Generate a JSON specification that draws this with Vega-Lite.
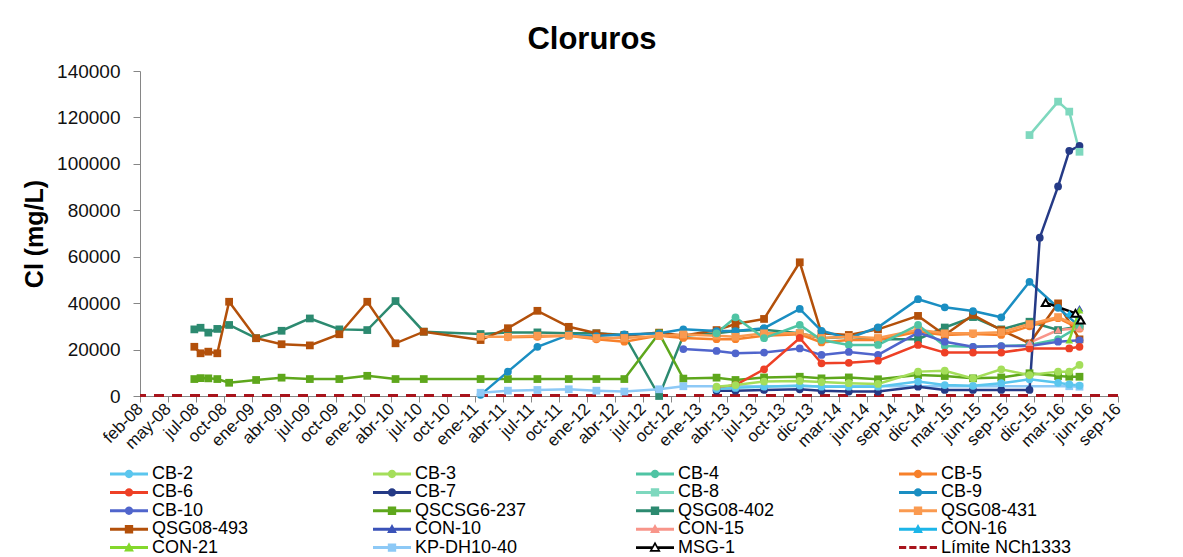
{
  "$schema": "https://vega.github.io/schema/vega-lite/v6.json",
  "width": 978,
  "height": 325,
  "autosize": {"type": "none"},
  "padding": {"left": 140, "top": 71, "right": 65, "bottom": 161},
  "background": "white",
  "title": {"text": "Cloruros", "font": "Liberation Sans", "fontSize": 31, "fontWeight": "bold", "color": "#000", "anchor": "middle", "dx": -37, "offset": 6},
  "config": {
    "view": {"stroke": null},
    "axis": {"labelFont": "Liberation Sans", "titleFont": "Liberation Sans", "domainColor": "#868686", "tickColor": "#868686", "grid": false, "labelColor": "#111"},
    "axisX": {"labelOverlap": false, "labelAngle": -45, "labelAlign": "right", "labelBaseline": "middle", "labelFontSize": 17, "labelPadding": 4, "tickSize": 6, "labelFlush": false, "labelBound": false},
    "axisY": {"labelFontSize": 19, "titleFontSize": 25, "titleFontWeight": "bold", "titleColor": "#000", "tickSize": 7, "titlePadding": 9, "labelPadding": 13, "labelOverlap": false}
  },
  "datasets": {
    "obs": [
      {"series": "QSG08-402", "date": "2008-07-25", "value": 28700},
      {"series": "QSG08-402", "date": "2008-08-14", "value": 29400},
      {"series": "QSG08-402", "date": "2008-09-08", "value": 27300},
      {"series": "QSG08-402", "date": "2008-10-07", "value": 28900},
      {"series": "QSG08-402", "date": "2008-11-14", "value": 30600},
      {"series": "QSG08-402", "date": "2009-02-09", "value": 24900},
      {"series": "QSG08-402", "date": "2009-05-02", "value": 28100},
      {"series": "QSG08-402", "date": "2009-08-01", "value": 33400},
      {"series": "QSG08-402", "date": "2009-11-04", "value": 28700},
      {"series": "QSG08-402", "date": "2010-02-02", "value": 28400},
      {"series": "QSG08-402", "date": "2010-05-04", "value": 40900},
      {"series": "QSG08-402", "date": "2010-08-03", "value": 27700},
      {"series": "QSG08-402", "date": "2011-02-02", "value": 26700},
      {"series": "QSG08-402", "date": "2011-05-01", "value": 27400},
      {"series": "QSG08-402", "date": "2011-08-04", "value": 27400},
      {"series": "QSG08-402", "date": "2011-11-13", "value": 27000},
      {"series": "QSG08-402", "date": "2012-02-10", "value": 27000},
      {"series": "QSG08-402", "date": "2012-05-10", "value": 26300},
      {"series": "QSG08-402", "date": "2012-08-30", "value": 0},
      {"series": "QSG08-402", "date": "2012-11-16", "value": 26000},
      {"series": "QSG08-402", "date": "2013-03-03", "value": 27000},
      {"series": "QSG08-402", "date": "2013-05-03", "value": 28000},
      {"series": "QSG08-402", "date": "2013-08-03", "value": 28500},
      {"series": "QSG08-402", "date": "2013-11-26", "value": 27000},
      {"series": "QSG08-402", "date": "2014-02-04", "value": 24900},
      {"series": "QSG08-402", "date": "2014-05-03", "value": 25500},
      {"series": "QSG08-402", "date": "2014-08-05", "value": 24500},
      {"series": "QSG08-402", "date": "2014-12-12", "value": 24500},
      {"series": "QSG08-402", "date": "2015-03-08", "value": 29500},
      {"series": "QSG08-402", "date": "2015-06-07", "value": 34000},
      {"series": "QSG08-402", "date": "2015-09-06", "value": 28700},
      {"series": "QSG08-402", "date": "2015-12-06", "value": 32000},
      {"series": "QSG08-402", "date": "2016-03-07", "value": 28400},
      {"series": "QSG08-402", "date": "2016-05-15", "value": 30000},

      {"series": "QSG08-493", "date": "2008-07-25", "value": 21200},
      {"series": "QSG08-493", "date": "2008-08-14", "value": 18400},
      {"series": "QSG08-493", "date": "2008-09-08", "value": 19100},
      {"series": "QSG08-493", "date": "2008-10-07", "value": 18400},
      {"series": "QSG08-493", "date": "2008-11-14", "value": 40600},
      {"series": "QSG08-493", "date": "2009-02-09", "value": 24900},
      {"series": "QSG08-493", "date": "2009-05-02", "value": 22300},
      {"series": "QSG08-493", "date": "2009-08-01", "value": 21800},
      {"series": "QSG08-493", "date": "2009-11-04", "value": 26600},
      {"series": "QSG08-493", "date": "2010-02-02", "value": 40600},
      {"series": "QSG08-493", "date": "2010-05-04", "value": 22700},
      {"series": "QSG08-493", "date": "2010-08-03", "value": 27700},
      {"series": "QSG08-493", "date": "2011-02-02", "value": 24100},
      {"series": "QSG08-493", "date": "2011-05-01", "value": 29200},
      {"series": "QSG08-493", "date": "2011-08-04", "value": 36700},
      {"series": "QSG08-493", "date": "2011-11-13", "value": 29800},
      {"series": "QSG08-493", "date": "2012-02-10", "value": 27000},
      {"series": "QSG08-493", "date": "2012-05-10", "value": 26000},
      {"series": "QSG08-493", "date": "2012-08-30", "value": 27300},
      {"series": "QSG08-493", "date": "2012-11-16", "value": 26000},
      {"series": "QSG08-493", "date": "2013-03-03", "value": 28400},
      {"series": "QSG08-493", "date": "2013-05-03", "value": 31000},
      {"series": "QSG08-493", "date": "2013-08-03", "value": 33200},
      {"series": "QSG08-493", "date": "2013-11-26", "value": 57600},
      {"series": "QSG08-493", "date": "2014-02-04", "value": 27000},
      {"series": "QSG08-493", "date": "2014-05-03", "value": 26300},
      {"series": "QSG08-493", "date": "2014-08-05", "value": 28700},
      {"series": "QSG08-493", "date": "2014-12-12", "value": 34500},
      {"series": "QSG08-493", "date": "2015-03-08", "value": 26300},
      {"series": "QSG08-493", "date": "2015-06-07", "value": 34900},
      {"series": "QSG08-493", "date": "2015-09-06", "value": 28400},
      {"series": "QSG08-493", "date": "2015-12-06", "value": 22700},
      {"series": "QSG08-493", "date": "2016-03-07", "value": 39900},
      {"series": "QSG08-493", "date": "2016-05-15", "value": 24400},

      {"series": "QSCSG6-237", "date": "2008-07-25", "value": 7300},
      {"series": "QSCSG6-237", "date": "2008-08-14", "value": 7700},
      {"series": "QSCSG6-237", "date": "2008-09-08", "value": 7600},
      {"series": "QSCSG6-237", "date": "2008-10-07", "value": 7300},
      {"series": "QSCSG6-237", "date": "2008-11-14", "value": 5700},
      {"series": "QSCSG6-237", "date": "2009-02-09", "value": 6900},
      {"series": "QSCSG6-237", "date": "2009-05-02", "value": 7900},
      {"series": "QSCSG6-237", "date": "2009-08-01", "value": 7300},
      {"series": "QSCSG6-237", "date": "2009-11-04", "value": 7300},
      {"series": "QSCSG6-237", "date": "2010-02-02", "value": 8700},
      {"series": "QSCSG6-237", "date": "2010-05-04", "value": 7300},
      {"series": "QSCSG6-237", "date": "2010-08-03", "value": 7300},
      {"series": "QSCSG6-237", "date": "2011-02-02", "value": 7300},
      {"series": "QSCSG6-237", "date": "2011-05-01", "value": 7300},
      {"series": "QSCSG6-237", "date": "2011-08-04", "value": 7300},
      {"series": "QSCSG6-237", "date": "2011-11-13", "value": 7300},
      {"series": "QSCSG6-237", "date": "2012-02-10", "value": 7300},
      {"series": "QSCSG6-237", "date": "2012-05-10", "value": 7300},
      {"series": "QSCSG6-237", "date": "2012-08-30", "value": 27000},
      {"series": "QSCSG6-237", "date": "2012-11-16", "value": 7500},
      {"series": "QSCSG6-237", "date": "2013-03-03", "value": 7900},
      {"series": "QSCSG6-237", "date": "2013-05-03", "value": 6900},
      {"series": "QSCSG6-237", "date": "2013-08-03", "value": 8000},
      {"series": "QSCSG6-237", "date": "2013-11-26", "value": 8300},
      {"series": "QSCSG6-237", "date": "2014-02-04", "value": 7600},
      {"series": "QSCSG6-237", "date": "2014-05-03", "value": 8000},
      {"series": "QSCSG6-237", "date": "2014-08-05", "value": 7200},
      {"series": "QSCSG6-237", "date": "2014-12-12", "value": 9000},
      {"series": "QSCSG6-237", "date": "2015-03-08", "value": 8600},
      {"series": "QSCSG6-237", "date": "2015-06-07", "value": 7600},
      {"series": "QSCSG6-237", "date": "2015-09-06", "value": 8000},
      {"series": "QSCSG6-237", "date": "2015-12-06", "value": 9800},
      {"series": "QSCSG6-237", "date": "2016-03-07", "value": 8600},
      {"series": "QSCSG6-237", "date": "2016-04-12", "value": 8300},
      {"series": "QSCSG6-237", "date": "2016-05-15", "value": 8300},

      {"series": "CB-9", "date": "2011-02-02", "value": 500},
      {"series": "CB-9", "date": "2011-05-01", "value": 10500},
      {"series": "CB-9", "date": "2011-08-04", "value": 21200},
      {"series": "CB-9", "date": "2011-11-13", "value": 26300},
      {"series": "CB-9", "date": "2012-02-10", "value": 25800},
      {"series": "CB-9", "date": "2012-05-10", "value": 26500},
      {"series": "CB-9", "date": "2012-08-30", "value": 27000},
      {"series": "CB-9", "date": "2012-11-16", "value": 28700},
      {"series": "CB-9", "date": "2013-03-03", "value": 28000},
      {"series": "CB-9", "date": "2013-05-03", "value": 28000},
      {"series": "CB-9", "date": "2013-08-03", "value": 29200},
      {"series": "CB-9", "date": "2013-11-26", "value": 37500},
      {"series": "CB-9", "date": "2014-02-04", "value": 28100},
      {"series": "CB-9", "date": "2014-05-03", "value": 24900},
      {"series": "CB-9", "date": "2014-08-05", "value": 29600},
      {"series": "CB-9", "date": "2014-12-12", "value": 41700},
      {"series": "CB-9", "date": "2015-03-08", "value": 38200},
      {"series": "CB-9", "date": "2015-06-07", "value": 36600},
      {"series": "CB-9", "date": "2015-09-06", "value": 33900},
      {"series": "CB-9", "date": "2015-12-06", "value": 49200},
      {"series": "CB-9", "date": "2016-03-07", "value": 38000},
      {"series": "CB-9", "date": "2016-05-15", "value": 30000},

      {"series": "KP-DH10-40", "date": "2011-02-02", "value": 1400},
      {"series": "KP-DH10-40", "date": "2011-05-01", "value": 2300},
      {"series": "KP-DH10-40", "date": "2011-08-04", "value": 2600},
      {"series": "KP-DH10-40", "date": "2011-11-13", "value": 2900},
      {"series": "KP-DH10-40", "date": "2012-02-10", "value": 2300},
      {"series": "KP-DH10-40", "date": "2012-05-10", "value": 1900},
      {"series": "KP-DH10-40", "date": "2012-08-30", "value": 2900},
      {"series": "KP-DH10-40", "date": "2012-11-16", "value": 4200},
      {"series": "KP-DH10-40", "date": "2016-04-12", "value": 4200},
      {"series": "KP-DH10-40", "date": "2016-05-15", "value": 4000},

      {"series": "CB-5", "date": "2011-05-01", "value": 25300},
      {"series": "CB-5", "date": "2011-08-04", "value": 25500},
      {"series": "CB-5", "date": "2011-11-13", "value": 26000},
      {"series": "CB-5", "date": "2012-02-10", "value": 24400},
      {"series": "CB-5", "date": "2012-05-10", "value": 23400},
      {"series": "CB-5", "date": "2012-08-30", "value": 26000},
      {"series": "CB-5", "date": "2012-11-16", "value": 25000},
      {"series": "CB-5", "date": "2013-03-03", "value": 24500},
      {"series": "CB-5", "date": "2013-05-03", "value": 24500},
      {"series": "CB-5", "date": "2013-08-03", "value": 26000},
      {"series": "CB-5", "date": "2013-11-26", "value": 26600},
      {"series": "CB-5", "date": "2014-02-04", "value": 23100},
      {"series": "CB-5", "date": "2014-05-03", "value": 24100},
      {"series": "CB-5", "date": "2014-08-05", "value": 24100},
      {"series": "CB-5", "date": "2014-12-12", "value": 27700},
      {"series": "CB-5", "date": "2015-03-08", "value": 26300},
      {"series": "CB-5", "date": "2015-06-07", "value": 26700},
      {"series": "CB-5", "date": "2015-09-06", "value": 26300},
      {"series": "CB-5", "date": "2015-12-06", "value": 30000},
      {"series": "CB-5", "date": "2016-03-07", "value": 33500},
      {"series": "CB-5", "date": "2016-05-15", "value": 29000},

      {"series": "QSG08-431", "date": "2011-02-02", "value": 25500},
      {"series": "QSG08-431", "date": "2011-05-01", "value": 25500},
      {"series": "QSG08-431", "date": "2011-08-04", "value": 26000},
      {"series": "QSG08-431", "date": "2011-11-13", "value": 26000},
      {"series": "QSG08-431", "date": "2012-02-10", "value": 25000},
      {"series": "QSG08-431", "date": "2012-05-10", "value": 25000},
      {"series": "QSG08-431", "date": "2012-08-30", "value": 25800},
      {"series": "QSG08-431", "date": "2012-11-16", "value": 26500},
      {"series": "QSG08-431", "date": "2013-03-03", "value": 26000},
      {"series": "QSG08-431", "date": "2013-05-03", "value": 25500},
      {"series": "QSG08-431", "date": "2013-08-03", "value": 27000},
      {"series": "QSG08-431", "date": "2013-11-26", "value": 27000},
      {"series": "QSG08-431", "date": "2014-02-04", "value": 25000},
      {"series": "QSG08-431", "date": "2014-05-03", "value": 25500},
      {"series": "QSG08-431", "date": "2014-08-05", "value": 25000},
      {"series": "QSG08-431", "date": "2014-12-12", "value": 28500},
      {"series": "QSG08-431", "date": "2015-03-08", "value": 27000},
      {"series": "QSG08-431", "date": "2015-06-07", "value": 27000},
      {"series": "QSG08-431", "date": "2015-09-06", "value": 27500},
      {"series": "QSG08-431", "date": "2015-12-06", "value": 31000},
      {"series": "QSG08-431", "date": "2016-03-07", "value": 34000},
      {"series": "QSG08-431", "date": "2016-05-15", "value": 30000},

      {"series": "CB-4", "date": "2013-03-03", "value": 27000},
      {"series": "CB-4", "date": "2013-05-03", "value": 33900},
      {"series": "CB-4", "date": "2013-08-03", "value": 24900},
      {"series": "CB-4", "date": "2013-11-26", "value": 30600},
      {"series": "CB-4", "date": "2014-02-04", "value": 24100},
      {"series": "CB-4", "date": "2014-05-03", "value": 22000},
      {"series": "CB-4", "date": "2014-08-05", "value": 22000},
      {"series": "CB-4", "date": "2014-12-12", "value": 30600},
      {"series": "CB-4", "date": "2015-03-08", "value": 21500},
      {"series": "CB-4", "date": "2015-06-07", "value": 21200},
      {"series": "CB-4", "date": "2015-09-06", "value": 21500},
      {"series": "CB-4", "date": "2015-12-06", "value": 22000},
      {"series": "CB-4", "date": "2016-03-07", "value": 24500},
      {"series": "CB-4", "date": "2016-05-15", "value": 30000},

      {"series": "CB-10", "date": "2012-11-16", "value": 20200},
      {"series": "CB-10", "date": "2013-03-03", "value": 19400},
      {"series": "CB-10", "date": "2013-05-03", "value": 18400},
      {"series": "CB-10", "date": "2013-08-03", "value": 18700},
      {"series": "CB-10", "date": "2013-11-26", "value": 20500},
      {"series": "CB-10", "date": "2014-02-04", "value": 17700},
      {"series": "CB-10", "date": "2014-05-03", "value": 19000},
      {"series": "CB-10", "date": "2014-08-05", "value": 17700},
      {"series": "CB-10", "date": "2014-12-12", "value": 27300},
      {"series": "CB-10", "date": "2015-03-08", "value": 23400},
      {"series": "CB-10", "date": "2015-06-07", "value": 21200},
      {"series": "CB-10", "date": "2015-09-06", "value": 21500},
      {"series": "CB-10", "date": "2015-12-06", "value": 21500},
      {"series": "CB-10", "date": "2016-03-07", "value": 23400},
      {"series": "CB-10", "date": "2016-05-15", "value": 24000},

      {"series": "CB-6", "date": "2013-03-03", "value": 3500},
      {"series": "CB-6", "date": "2013-05-03", "value": 4700},
      {"series": "CB-6", "date": "2013-08-03", "value": 11500},
      {"series": "CB-6", "date": "2013-11-26", "value": 25000},
      {"series": "CB-6", "date": "2014-02-04", "value": 14100},
      {"series": "CB-6", "date": "2014-05-03", "value": 14300},
      {"series": "CB-6", "date": "2014-08-05", "value": 15200},
      {"series": "CB-6", "date": "2014-12-12", "value": 22000},
      {"series": "CB-6", "date": "2015-03-08", "value": 18700},
      {"series": "CB-6", "date": "2015-06-07", "value": 18700},
      {"series": "CB-6", "date": "2015-09-06", "value": 18700},
      {"series": "CB-6", "date": "2015-12-06", "value": 20500},
      {"series": "CB-6", "date": "2016-04-12", "value": 20500},
      {"series": "CB-6", "date": "2016-05-15", "value": 21200},

      {"series": "CB-7", "date": "2013-03-03", "value": 2300},
      {"series": "CB-7", "date": "2013-05-03", "value": 2300},
      {"series": "CB-7", "date": "2013-08-03", "value": 2600},
      {"series": "CB-7", "date": "2013-11-26", "value": 2900},
      {"series": "CB-7", "date": "2014-02-04", "value": 2300},
      {"series": "CB-7", "date": "2014-05-03", "value": 1900},
      {"series": "CB-7", "date": "2014-08-05", "value": 1900},
      {"series": "CB-7", "date": "2014-12-12", "value": 4000},
      {"series": "CB-7", "date": "2015-03-08", "value": 2600},
      {"series": "CB-7", "date": "2015-06-07", "value": 2600},
      {"series": "CB-7", "date": "2015-09-06", "value": 2600},
      {"series": "CB-7", "date": "2015-12-06", "value": 2600},
      {"series": "CB-7", "date": "2016-01-08", "value": 68200},
      {"series": "CB-7", "date": "2016-03-07", "value": 90300},
      {"series": "CB-7", "date": "2016-04-12", "value": 105600},
      {"series": "CB-7", "date": "2016-05-15", "value": 107700},

      {"series": "CB-8", "date": "2015-12-06", "value": 112400},
      {"series": "CB-8", "date": "2016-03-07", "value": 126800},
      {"series": "CB-8", "date": "2016-04-12", "value": 122500},
      {"series": "CB-8", "date": "2016-05-15", "value": 105200},

      {"series": "CB-2", "date": "2013-03-03", "value": 3000},
      {"series": "CB-2", "date": "2013-05-03", "value": 3500},
      {"series": "CB-2", "date": "2013-08-03", "value": 4000},
      {"series": "CB-2", "date": "2013-11-26", "value": 4500},
      {"series": "CB-2", "date": "2014-02-04", "value": 4000},
      {"series": "CB-2", "date": "2014-05-03", "value": 4000},
      {"series": "CB-2", "date": "2014-08-05", "value": 4000},
      {"series": "CB-2", "date": "2014-12-12", "value": 6200},
      {"series": "CB-2", "date": "2015-03-08", "value": 4700},
      {"series": "CB-2", "date": "2015-06-07", "value": 4400},
      {"series": "CB-2", "date": "2015-09-06", "value": 5500},
      {"series": "CB-2", "date": "2015-12-06", "value": 7200},
      {"series": "CB-2", "date": "2016-03-07", "value": 5700},
      {"series": "CB-2", "date": "2016-04-12", "value": 5000},
      {"series": "CB-2", "date": "2016-05-15", "value": 4500},

      {"series": "CB-3", "date": "2013-03-03", "value": 4000},
      {"series": "CB-3", "date": "2013-05-03", "value": 4700},
      {"series": "CB-3", "date": "2013-08-03", "value": 6200},
      {"series": "CB-3", "date": "2013-11-26", "value": 6500},
      {"series": "CB-3", "date": "2014-02-04", "value": 6000},
      {"series": "CB-3", "date": "2014-05-03", "value": 5500},
      {"series": "CB-3", "date": "2014-08-05", "value": 5200},
      {"series": "CB-3", "date": "2014-12-12", "value": 10500},
      {"series": "CB-3", "date": "2015-03-08", "value": 10900},
      {"series": "CB-3", "date": "2015-06-07", "value": 7600},
      {"series": "CB-3", "date": "2015-09-06", "value": 11500},
      {"series": "CB-3", "date": "2015-12-06", "value": 9000},
      {"series": "CB-3", "date": "2016-03-07", "value": 10500},
      {"series": "CB-3", "date": "2016-04-12", "value": 10500},
      {"series": "CB-3", "date": "2016-05-15", "value": 13400},

      {"series": "MSG-1", "date": "2016-01-27", "value": 40200},
      {"series": "MSG-1", "date": "2016-05-02", "value": 35600},
      {"series": "MSG-1", "date": "2016-05-19", "value": 32700},

      {"series": "CON-10", "date": "2016-05-15", "value": 37800},

      {"series": "CON-15", "date": "2015-12-06", "value": 23000},
      {"series": "CON-15", "date": "2016-03-07", "value": 28400},
      {"series": "CON-15", "date": "2016-05-15", "value": 29200},

      {"series": "CON-16", "date": "2016-04-12", "value": 35600},
      {"series": "CON-16", "date": "2016-05-15", "value": 33000},

      {"series": "CON-21", "date": "2016-04-12", "value": 24100},
      {"series": "CON-21", "date": "2016-05-15", "value": 37000}
    ],
    "lim": [{"series": "Límite NCh1333", "value": 250}],
    "keys": [
      {"series": "CB-2"}, {"series": "CB-3"}, {"series": "CB-4"}, {"series": "CB-5"},
      {"series": "CB-6"}, {"series": "CB-7"}, {"series": "CB-8"}, {"series": "CB-9"},
      {"series": "CB-10"}, {"series": "QSCSG6-237"}, {"series": "QSG08-402"}, {"series": "QSG08-431"},
      {"series": "QSG08-493"}, {"series": "CON-10"}, {"series": "CON-15"}, {"series": "CON-16"},
      {"series": "CON-21"}, {"series": "KP-DH10-40"}, {"series": "MSG-1"}, {"series": "Límite NCh1333"}
    ]
  },
  "layer": [
    {
      "data": {"name": "lim"},
      "mark": {"type": "rule", "strokeWidth": 3, "strokeDash": [10, 8]},
      "encoding": {
        "y": {"field": "value", "type": "quantitative", "scale": {"domain": [0, 140000]}},
        "color": {"field": "series", "type": "nominal", "legend": null,
          "scale": {"domain": ["CB-2","CB-3","CB-4","CB-5","CB-6","CB-7","CB-8","CB-9","CB-10","QSCSG6-237","QSG08-402","QSG08-431","QSG08-493","CON-10","CON-15","CON-16","CON-21","KP-DH10-40","MSG-1","Límite NCh1333"],
                    "range": ["#5BC6EE","#A4DE5A","#4FC4A4","#F7802A","#EE4026","#253A86","#7ED8BE","#1A8EC2","#5065CC","#5EA71C","#2C8A70","#FA9A50","#B3500A","#3A52B8","#F8958A","#1CB5E8","#84D82C","#8DC9F6","#000000","#A8141C"]}}
      }
    },
    {
      "data": {"name": "obs"},
      "mark": {"type": "line", "strokeWidth": 2.5},
      "encoding": {
        "x": {"field": "date", "type": "temporal", "title": null,
          "scale": {"type": "utc", "domain": [{"year": 2008, "month": 2, "date": 1, "utc": true}, {"year": 2016, "month": 9, "date": 16, "utc": true}]},
          "axis": {
            "values": [
              {"year": 2008, "month": 2, "date": 1, "utc": true}, {"year": 2008, "month": 5, "date": 1, "utc": true},
              {"year": 2008, "month": 7, "date": 30, "utc": true}, {"year": 2008, "month": 10, "date": 28, "utc": true},
              {"year": 2009, "month": 1, "date": 26, "utc": true}, {"year": 2009, "month": 4, "date": 26, "utc": true},
              {"year": 2009, "month": 7, "date": 25, "utc": true}, {"year": 2009, "month": 10, "date": 23, "utc": true},
              {"year": 2010, "month": 1, "date": 21, "utc": true}, {"year": 2010, "month": 4, "date": 21, "utc": true},
              {"year": 2010, "month": 7, "date": 20, "utc": true}, {"year": 2010, "month": 10, "date": 18, "utc": true},
              {"year": 2011, "month": 1, "date": 16, "utc": true}, {"year": 2011, "month": 4, "date": 16, "utc": true},
              {"year": 2011, "month": 7, "date": 15, "utc": true}, {"year": 2011, "month": 10, "date": 13, "utc": true},
              {"year": 2012, "month": 1, "date": 11, "utc": true}, {"year": 2012, "month": 4, "date": 10, "utc": true},
              {"year": 2012, "month": 7, "date": 9, "utc": true}, {"year": 2012, "month": 10, "date": 7, "utc": true},
              {"year": 2013, "month": 1, "date": 5, "utc": true}, {"year": 2013, "month": 4, "date": 5, "utc": true},
              {"year": 2013, "month": 7, "date": 4, "utc": true}, {"year": 2013, "month": 10, "date": 2, "utc": true},
              {"year": 2013, "month": 12, "date": 31, "utc": true}, {"year": 2014, "month": 3, "date": 31, "utc": true},
              {"year": 2014, "month": 6, "date": 29, "utc": true}, {"year": 2014, "month": 9, "date": 27, "utc": true},
              {"year": 2014, "month": 12, "date": 26, "utc": true}, {"year": 2015, "month": 3, "date": 26, "utc": true},
              {"year": 2015, "month": 6, "date": 24, "utc": true}, {"year": 2015, "month": 9, "date": 22, "utc": true},
              {"year": 2015, "month": 12, "date": 21, "utc": true}, {"year": 2016, "month": 3, "date": 20, "utc": true},
              {"year": 2016, "month": 6, "date": 18, "utc": true}, {"year": 2016, "month": 9, "date": 16, "utc": true}
            ],
            "tickCount": 60,
            "labelExpr": "['ene','feb','mar','abr','may','jun','jul','ago','sep','oct','nov','dic'][utcmonth(datum.value)] + '-' + utcFormat(datum.value, '%y')",
            "labelOverlap": false
          }
        },
        "y": {"field": "value", "type": "quantitative", "title": "Cl (mg/L)",
          "scale": {"domain": [0, 140000]},
          "axis": {"values": [0, 20000, 40000, 60000, 80000, 100000, 120000, 140000], "tickCount": 20, "format": "d"}
        },
        "color": {"field": "series", "type": "nominal", "legend": null,
          "scale": {"domain": ["CB-2","CB-3","CB-4","CB-5","CB-6","CB-7","CB-8","CB-9","CB-10","QSCSG6-237","QSG08-402","QSG08-431","QSG08-493","CON-10","CON-15","CON-16","CON-21","KP-DH10-40","MSG-1","Límite NCh1333"],
                    "range": ["#5BC6EE","#A4DE5A","#4FC4A4","#F7802A","#EE4026","#253A86","#7ED8BE","#1A8EC2","#5065CC","#5EA71C","#2C8A70","#FA9A50","#B3500A","#3A52B8","#F8958A","#1CB5E8","#84D82C","#8DC9F6","#000000","#A8141C"]}}
      }
    },
    {
      "data": {"name": "obs"},
      "transform": [{"filter": "datum.series !== 'MSG-1'"}],
      "mark": {"type": "point", "filled": true, "opacity": 1, "size": 60},
      "encoding": {
        "x": {"field": "date", "type": "temporal"},
        "y": {"field": "value", "type": "quantitative"},
        "color": {"field": "series", "type": "nominal", "legend": null,
          "scale": {"domain": ["CB-2","CB-3","CB-4","CB-5","CB-6","CB-7","CB-8","CB-9","CB-10","QSCSG6-237","QSG08-402","QSG08-431","QSG08-493","CON-10","CON-15","CON-16","CON-21","KP-DH10-40","MSG-1","Límite NCh1333"],
                    "range": ["#5BC6EE","#A4DE5A","#4FC4A4","#F7802A","#EE4026","#253A86","#7ED8BE","#1A8EC2","#5065CC","#5EA71C","#2C8A70","#FA9A50","#B3500A","#3A52B8","#F8958A","#1CB5E8","#84D82C","#8DC9F6","#000000","#A8141C"]}},
        "shape": {"field": "series", "type": "nominal", "legend": null,
          "scale": {"domain": ["CB-2","CB-3","CB-4","CB-5","CB-6","CB-7","CB-8","CB-9","CB-10","QSCSG6-237","QSG08-402","QSG08-431","QSG08-493","CON-10","CON-15","CON-16","CON-21","KP-DH10-40","MSG-1","Límite NCh1333"],
                    "range": ["circle","circle","circle","circle","circle","circle","square","circle","circle","square","square","square","square","triangle-up","triangle-up","triangle-up","triangle-up","square","triangle-up","circle"]}}
      }
    },
    {
      "data": {"name": "obs"},
      "transform": [{"filter": "datum.series === 'MSG-1'"}],
      "mark": {"type": "point", "shape": "triangle-up", "filled": false, "fill": "white", "stroke": "black", "strokeWidth": 2, "size": 60, "opacity": 1},
      "encoding": {
        "x": {"field": "date", "type": "temporal"},
        "y": {"field": "value", "type": "quantitative"}
      }
    },
    {
      "data": {"name": "keys"},
      "mark": {"type": "point", "filled": true, "opacity": 0},
      "encoding": {
        "color": {"field": "series", "type": "nominal", "title": null,
          "scale": {"domain": ["CB-2","CB-3","CB-4","CB-5","CB-6","CB-7","CB-8","CB-9","CB-10","QSCSG6-237","QSG08-402","QSG08-431","QSG08-493","CON-10","CON-15","CON-16","CON-21","KP-DH10-40","MSG-1","Límite NCh1333"],
                    "range": ["#5BC6EE","#A4DE5A","#4FC4A4","#F7802A","#EE4026","#253A86","#7ED8BE","#1A8EC2","#5065CC","#5EA71C","#2C8A70","#FA9A50","#B3500A","#3A52B8","#F8958A","#1CB5E8","#84D82C","#8DC9F6","#000000","#A8141C"]},
          "legend": {"orient": "none", "legendX": -30, "legendY": 394, "columns": 4, "direction": "horizontal", "symbolSize": 1444, "symbolOpacity": 1, "symbolStrokeWidth": 0, "clipHeight": 18, "labelFont": "Liberation Sans", "labelFontSize": 18, "labelColor": "#000", "labelOffset": 4, "columnPadding": 90, "rowPadding": 0.4, "gridAlign": "all", "padding": 0, "labelLimit": 300,
            "encode": {"symbols": {"update": {"opacity": {"value": 1}, "fillOpacity": {"value": 1}}}}}},
        "shape": {"field": "series", "type": "nominal", "title": null,
          "scale": {"domain": ["CB-2","CB-3","CB-4","CB-5","CB-6","CB-7","CB-8","CB-9","CB-10","QSCSG6-237","QSG08-402","QSG08-431","QSG08-493","CON-10","CON-15","CON-16","CON-21","KP-DH10-40","MSG-1","Límite NCh1333"],
                    "range": [
                      "M-1,-0.08L1,-0.08L1,0.08L-1,0.08Z M0.22,0C0.22,0.12 0.12,0.22 0,0.22C-0.12,0.22 -0.22,0.12 -0.22,0C-0.22,-0.12 -0.12,-0.22 0,-0.22C0.12,-0.22 0.22,-0.12 0.22,0Z",
                      "M-1,-0.08L1,-0.08L1,0.08L-1,0.08Z M0.22,0C0.22,0.12 0.12,0.22 0,0.22C-0.12,0.22 -0.22,0.12 -0.22,0C-0.22,-0.12 -0.12,-0.22 0,-0.22C0.12,-0.22 0.22,-0.12 0.22,0Z",
                      "M-1,-0.08L1,-0.08L1,0.08L-1,0.08Z M0.22,0C0.22,0.12 0.12,0.22 0,0.22C-0.12,0.22 -0.22,0.12 -0.22,0C-0.22,-0.12 -0.12,-0.22 0,-0.22C0.12,-0.22 0.22,-0.12 0.22,0Z",
                      "M-1,-0.08L1,-0.08L1,0.08L-1,0.08Z M0.22,0C0.22,0.12 0.12,0.22 0,0.22C-0.12,0.22 -0.22,0.12 -0.22,0C-0.22,-0.12 -0.12,-0.22 0,-0.22C0.12,-0.22 0.22,-0.12 0.22,0Z",
                      "M-1,-0.08L1,-0.08L1,0.08L-1,0.08Z M0.22,0C0.22,0.12 0.12,0.22 0,0.22C-0.12,0.22 -0.22,0.12 -0.22,0C-0.22,-0.12 -0.12,-0.22 0,-0.22C0.12,-0.22 0.22,-0.12 0.22,0Z",
                      "M-1,-0.08L1,-0.08L1,0.08L-1,0.08Z M0.22,0C0.22,0.12 0.12,0.22 0,0.22C-0.12,0.22 -0.22,0.12 -0.22,0C-0.22,-0.12 -0.12,-0.22 0,-0.22C0.12,-0.22 0.22,-0.12 0.22,0Z",
                      "M-1,-0.08L1,-0.08L1,0.08L-1,0.08Z M-0.22,-0.22L0.22,-0.22L0.22,0.22L-0.22,0.22Z",
                      "M-1,-0.08L1,-0.08L1,0.08L-1,0.08Z M0.22,0C0.22,0.12 0.12,0.22 0,0.22C-0.12,0.22 -0.22,0.12 -0.22,0C-0.22,-0.12 -0.12,-0.22 0,-0.22C0.12,-0.22 0.22,-0.12 0.22,0Z",
                      "M-1,-0.08L1,-0.08L1,0.08L-1,0.08Z M0.22,0C0.22,0.12 0.12,0.22 0,0.22C-0.12,0.22 -0.22,0.12 -0.22,0C-0.22,-0.12 -0.12,-0.22 0,-0.22C0.12,-0.22 0.22,-0.12 0.22,0Z",
                      "M-1,-0.08L1,-0.08L1,0.08L-1,0.08Z M-0.22,-0.22L0.22,-0.22L0.22,0.22L-0.22,0.22Z",
                      "M-1,-0.08L1,-0.08L1,0.08L-1,0.08Z M-0.22,-0.22L0.22,-0.22L0.22,0.22L-0.22,0.22Z",
                      "M-1,-0.08L1,-0.08L1,0.08L-1,0.08Z M-0.22,-0.22L0.22,-0.22L0.22,0.22L-0.22,0.22Z",
                      "M-1,-0.08L1,-0.08L1,0.08L-1,0.08Z M-0.22,-0.22L0.22,-0.22L0.22,0.22L-0.22,0.22Z",
                      "M-1,-0.08L1,-0.08L1,0.08L-1,0.08Z M0,-0.28L0.26,0.2L-0.26,0.2Z",
                      "M-1,-0.08L1,-0.08L1,0.08L-1,0.08Z M0,-0.28L0.26,0.2L-0.26,0.2Z",
                      "M-1,-0.08L1,-0.08L1,0.08L-1,0.08Z M0,-0.28L0.26,0.2L-0.26,0.2Z",
                      "M-1,-0.08L1,-0.08L1,0.08L-1,0.08Z M0,-0.28L0.26,0.2L-0.26,0.2Z",
                      "M-1,-0.08L1,-0.08L1,0.08L-1,0.08Z M-0.22,-0.22L0.22,-0.22L0.22,0.22L-0.22,0.22Z",
                      "M-1,-0.07L-0.12,-0.07L-0.12,0.07L-1,0.07Z M0.12,-0.07L1,-0.07L1,0.07L0.12,0.07Z M0,-0.32L0.3,0.22L-0.3,0.22Z M0,-0.14L-0.15,0.13L0.15,0.13Z",
                      "M-1,-0.08L-0.62,-0.08L-0.62,0.08L-1,0.08Z M-0.46,-0.08L-0.08,-0.08L-0.08,0.08L-0.46,0.08Z M0.08,-0.08L0.46,-0.08L0.46,0.08L0.08,0.08Z M0.62,-0.08L1,-0.08L1,0.08L0.62,0.08Z"
                    ]}}
      }
    }
  ],
  "resolve": {"scale": {"color": "independent", "shape": "independent"}}
}
